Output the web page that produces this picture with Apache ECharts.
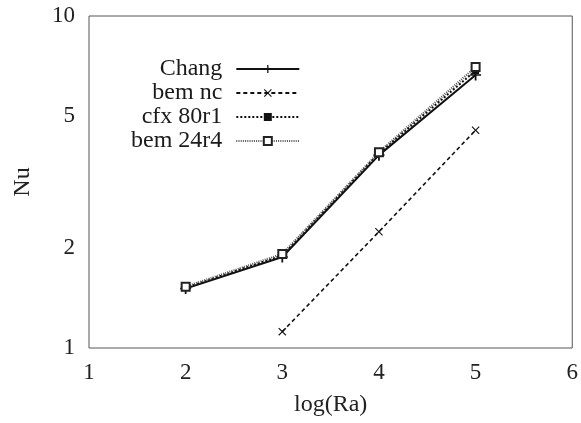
<!DOCTYPE html>
<html>
<head>
<meta charset="utf-8">
<script src="https://cdn.jsdelivr.net/npm/echarts@6/dist/echarts.min.js"></script>
<style>
  html, body { margin: 0; padding: 0; background: #fff; }
  #main { width: 581px; height: 423px; }
</style>
</head>
<body>
<div id="main"></div>
<script>
// log(Ra) positions and Nu values
var logRa = [2, 3, 4, 5];
var chang = [1.51, 1.88, 3.81, 6.64];
var bemNc = [null, 1.12, 2.24, 4.53];
var cfx80r1 = [1.52, 1.90, 3.86, 6.85];
var bem24r4 = [1.53, 1.92, 3.89, 7.02];

var yTicks = [1, 2, 5, 10];

var serif = '"Liberation Serif", "DejaVu Serif", serif';

function pairs(vals) {
    var out = [];
    for (var i = 0; i < logRa.length; i++) {
        if (vals[i] !== null) out.push([logRa[i], vals[i]]);
    }
    return out;
}

var plusPath = 'path://M4.2,0h1.6v10h-1.6z M0,4.3h10v1.4h-10z';
var crossPath = 'path://M0,1L1,0L5,4L9,0L10,1L6,5L10,9L9,10L5,6L1,10L0,9L4,5z';

var chart = echarts.init(document.getElementById('main'));

var option = {
    animation: false,
    backgroundColor: '#fff',
    textStyle: { fontFamily: serif },
    grid: {
        left: 89, right: 8, top: 16, bottom: 75,
        show: true, borderColor: '#555', borderWidth: 1
    },
    legend: {
        orient: 'vertical',
        left: 126,
        top: 52,
        align: 'right',
        itemWidth: 63,
        itemHeight: 10,
        itemGap: 0,
        textStyle: { fontFamily: serif, fontSize: 24, lineHeight: 22, color: '#1a1a1a', padding: [0, 9, 0, 0] },
        data: ['Chang', 'bem nc', 'cfx 80r1', 'bem 24r4']
    },
    xAxis: {
        type: 'value',
        min: 1, max: 6, interval: 1,
        name: 'log(Ra)',
        nameLocation: 'middle',
        nameGap: 45,
        nameTextStyle: { fontFamily: serif, fontSize: 24, color: '#222' },
        axisLine: { show: false },
        axisTick: { show: false },
        splitLine: { show: false },
        axisLabel: { fontFamily: serif, fontSize: 23, color: '#222', margin: 13 }
    },
    yAxis: {
        type: 'log',
        logBase: 10,
        min: 1, max: 10,
        name: 'Nu',
        nameLocation: 'middle',
        nameGap: 54,
        nameTextStyle: { fontFamily: serif, fontSize: 24, color: '#222' },
        axisLine: { show: false },
        axisTick: { show: false },
        splitLine: { show: false },
        axisLabel: { fontFamily: serif, fontSize: 23, color: '#222', margin: 14, customValues: yTicks }
    },
    series: [
        {
            name: 'Chang', type: 'line', data: pairs(chang),
            symbol: plusPath, symbolSize: 11,
            itemStyle: { color: '#111' },
            lineStyle: { color: '#111', width: 2 }
        },
        {
            name: 'bem nc', type: 'line', data: pairs(bemNc),
            symbol: crossPath, symbolSize: 8,
            itemStyle: { color: '#111' },
            lineStyle: { color: '#111', width: 1.6, type: [4, 3] }
        },
        {
            name: 'cfx 80r1', type: 'line', data: pairs(cfx80r1),
            symbol: 'rect', symbolSize: 7,
            itemStyle: { color: '#111' },
            lineStyle: { color: '#111', width: 2, type: [2, 2] }
        },
        {
            name: 'bem 24r4', type: 'line', data: pairs(bem24r4),
            symbol: 'emptyRect', symbolSize: 8,
            itemStyle: { color: '#222', borderWidth: 1.6 },
            lineStyle: { color: '#555', width: 2.2, type: [1, 1.2] }
        }
    ]
};

chart.setOption(option);
</script>
</body>
</html>
